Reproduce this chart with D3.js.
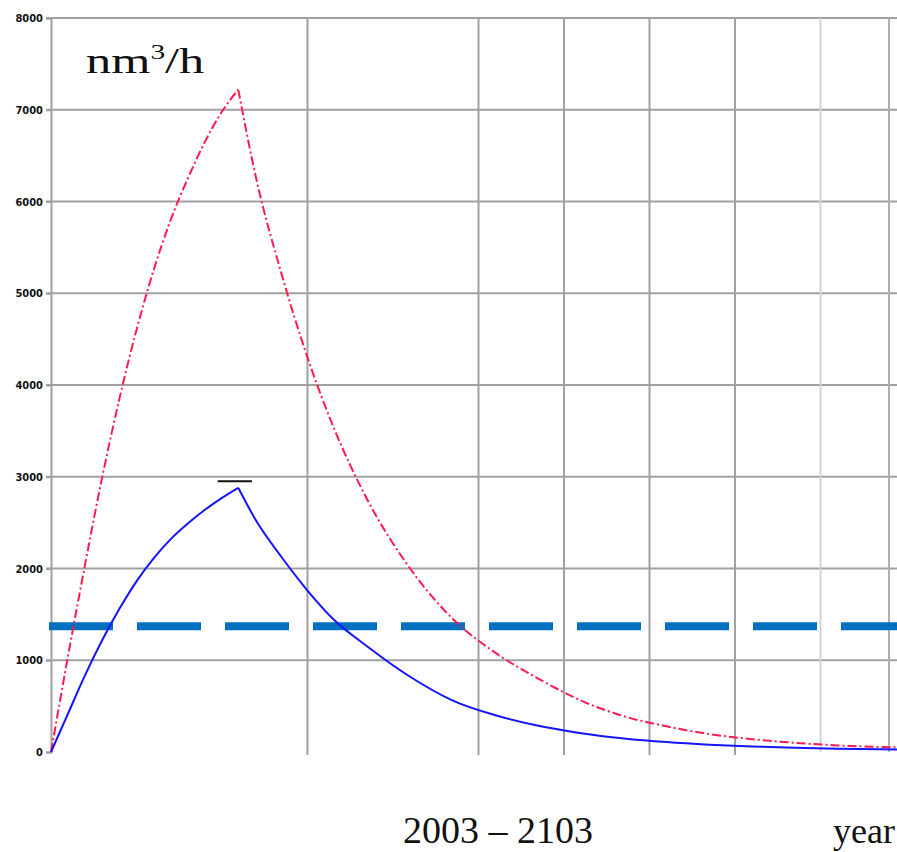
<!DOCTYPE html>
<html>
<head>
<meta charset="utf-8">
<script src="https://cdn.jsdelivr.net/npm/d3@7"></script>
<style>
  body { margin: 0; background: #fff; }
  svg { display: block; }
</style>
</head>
<body>
<svg id="chart" width="897" height="852"></svg>
<script>
// total flow (red, dash-dot)
const redYears  = [2003, 2005, 2007, 2009, 2011, 2013, 2015, 2017, 2019, 2021, 2023, 2024.9, 2027, 2030, 2033, 2036, 2040, 2045, 2050, 2055, 2060, 2065, 2070, 2075, 2080, 2085, 2090, 2095, 2100, 2103]
const redValues = [0, 1050, 2050, 3000, 3850, 4600, 5250, 5800, 6250, 6650, 6980, 7220, 6250, 5200, 4300, 3550, 2750, 2000, 1450, 1080, 800, 560, 390, 280, 195, 140, 100, 72, 55, 48]

// blue flow (solid)
const blueYears  = [2003, 2005, 2007, 2009, 2011, 2013, 2015, 2017, 2019, 2021, 2023, 2024.9, 2027, 2030, 2033, 2036, 2040, 2045, 2050, 2055, 2060, 2065, 2070, 2075, 2080, 2085, 2090, 2095, 2100, 2103]
const blueValues = [0, 420, 840, 1220, 1560, 1860, 2110, 2320, 2490, 2640, 2770, 2880, 2520, 2120, 1760, 1450, 1150, 820, 560, 400, 285, 205, 148, 108, 80, 60, 46, 36, 29, 26]

// capacity limit (thick blue dashes)
const limitValue = 1370

// short black mark above the blue peak
const peakMark = { from: 2022.5, to: 2026.5, value: 2950 }

const yTicks = [0, 1000, 2000, 3000, 4000, 5000, 6000, 7000, 8000]
const gridYears = [2033, 2053, 2063, 2073, 2083]
const faintGridYears = [2093]

const svg = d3.select('#chart')
const W = 897

const x = d3.scaleLinear().domain([2003, 2103]).range([51, 906])
const y = d3.scaleLinear().domain([0, 8000]).range([752, 18])

// horizontal grid
svg.append('g')
  .selectAll('line')
  .data(yTicks.filter(d => d > 0))
  .enter().append('line')
    .attr('x1', 46).attr('x2', W)
    .attr('y1', d => y(d)).attr('y2', d => y(d))
    .attr('stroke', '#a0a0a0').attr('stroke-width', 2)

// vertical grid
svg.append('g')
  .selectAll('line')
  .data(gridYears)
  .enter().append('line')
    .attr('x1', d => x(d)).attr('x2', d => x(d))
    .attr('y1', y(8000)).attr('y2', y(0) + 3)
    .attr('stroke', '#a0a0a0').attr('stroke-width', 2)

svg.append('g')
  .selectAll('line')
  .data(faintGridYears)
  .enter().append('line')
    .attr('x1', d => x(d)).attr('x2', d => x(d))
    .attr('y1', y(8000)).attr('y2', y(0))
    .attr('stroke', '#d4d4d4').attr('stroke-width', 2)

// right frame
svg.append('line')
  .attr('x1', 889).attr('x2', 889)
  .attr('y1', y(8000)).attr('y2', y(0))
  .attr('stroke', '#b0b0b0').attr('stroke-width', 2)

// y axis
const yAxis = d3.axisLeft(y)
  .tickValues(yTicks)
  .tickSize(5)
  .tickPadding(3)
  .tickFormat(d3.format('d'))

const ax = svg.append('g')
  .attr('transform', 'translate(51,0)')
  .call(yAxis)
ax.select('.domain').attr('stroke', '#a0a0a0').attr('stroke-width', 2)
ax.selectAll('.tick line').attr('stroke', '#a0a0a0').attr('stroke-width', 2)
ax.selectAll('.tick text')
  .attr('font-family', 'DejaVu Sans Condensed, DejaVu Sans')
  .attr('font-weight', 'bold')
  .attr('font-size', 11)
  .attr('fill', '#111')

// limit line
svg.append('line')
  .attr('x1', 49).attr('x2', W)
  .attr('y1', y(limitValue)).attr('y2', y(limitValue))
  .attr('stroke', '#0070c0').attr('stroke-width', 8)
  .attr('stroke-dasharray', '64,24')

const line = d3.line()
  .x(d => x(d[0]))
  .y(d => y(d[1]))
  .curve(d3.curveMonotoneX)

// draw rise and fall separately so the peak stays sharp
function drawSeries(years, values, stroke, dash) {
  const pts = years.map((d, i) => [d, values[i]])
  const peak = d3.maxIndex(values)
  const parts = [pts.slice(0, peak + 1), pts.slice(peak)]
  svg.append('g')
    .selectAll('path')
    .data(parts)
    .enter().append('path')
      .attr('d', line)
      .attr('fill', 'none')
      .attr('stroke', stroke)
      .attr('stroke-width', 2)
      .attr('stroke-dasharray', dash)
}

drawSeries(redYears, redValues, '#ff1a4f', '9,3,2,3')
drawSeries(blueYears, blueValues, '#1414ff', null)

svg.append('line')
  .attr('x1', x(peakMark.from)).attr('x2', x(peakMark.to))
  .attr('y1', y(peakMark.value)).attr('y2', y(peakMark.value))
  .attr('stroke', '#111').attr('stroke-width', 2)

// unit label
const unit = svg.append('text')
  .attr('transform', 'translate(86,73) scale(1.4,1)')
  .attr('font-family', 'Liberation Serif, Times New Roman, serif')
  .attr('font-size', 36)
  .attr('fill', '#111')
unit.append('tspan').text('nm')
unit.append('tspan').attr('font-size', 21).attr('dy', -14).text('3')
unit.append('tspan').attr('dy', 14).text('/h')

svg.append('text')
  .attr('x', 403).attr('y', 843)
  .attr('font-family', 'Liberation Serif, Times New Roman, serif')
  .attr('font-size', 38)
  .attr('fill', '#111')
  .text('2003 – 2103')

svg.append('text')
  .attr('x', 833).attr('y', 843)
  .attr('font-family', 'Liberation Serif, Times New Roman, serif')
  .attr('font-size', 36)
  .attr('fill', '#111')
  .text('year')
</script>
</body>
</html>
